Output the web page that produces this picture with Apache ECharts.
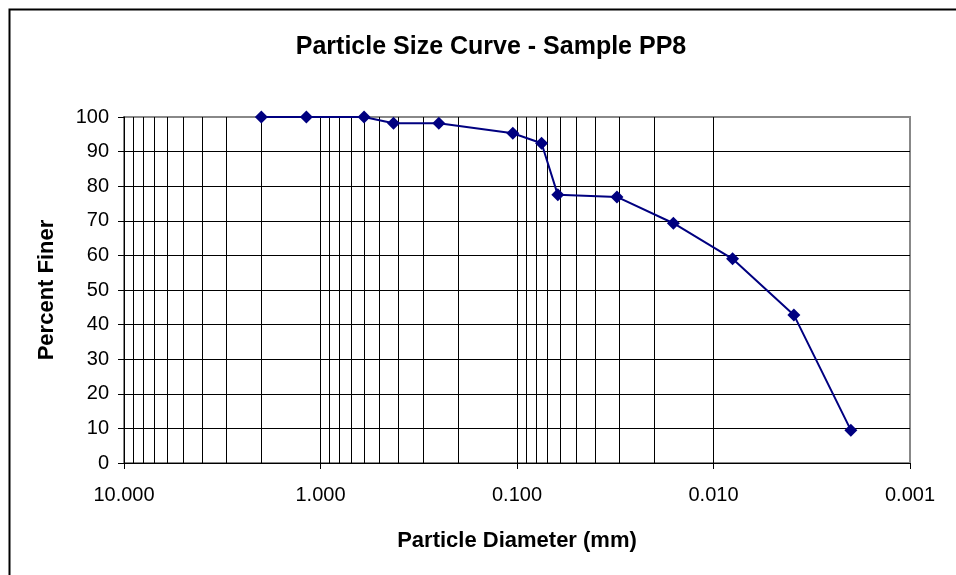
<!DOCTYPE html>
<html>
<head>
<meta charset="utf-8">
<script src="https://cdn.jsdelivr.net/npm/echarts@6/dist/echarts.min.js"></script>
<style>
html,body{margin:0;padding:0;background:#fff;}
#chart{width:956px;height:575px;}
</style>
</head>
<body>
<div id="chart"></div>
<script>
// Data
const diameters = [2.0, 1.18, 0.6, 0.425, 0.25, 0.105, 0.075, 0.062, 0.031, 0.016, 0.008, 0.0039, 0.002];
const percentFiner = [100, 100, 100, 98.2, 98.2, 95.3, 92.4, 77.5, 76.9, 69.3, 59.0, 42.8, 9.5];
// Log-grid minor lines (multiples within each decade)
const decades = [0.001, 0.01, 0.1, 1];
const multipliers = [2, 3, 4, 5, 6, 7, 8, 9];
const yTicks = [0, 10, 20, 30, 40, 50, 60, 70, 80, 90, 100];

const FONT = "'Liberation Sans', Arial, sans-serif";
const minorLines = [];
decades.forEach(d => multipliers.forEach(m => minorLines.push({ xAxis: +(d * m).toPrecision(3) })));

const chart = echarts.init(document.getElementById('chart'), null, { renderer: 'canvas' });
chart.setOption({
  animation: false,
  backgroundColor: '#fff',
  title: {
    text: 'Particle Size Curve - Sample PP8',
    left: 486, top: 30, textAlign: 'center',
    textStyle: { fontFamily: FONT, fontWeight: 'bold', fontSize: 25, color: '#000' }
  },
  graphic: [{
    type: 'rect', left: 7, top: 7, silent: true,
    shape: { x: 0, y: 0, width: 1100, height: 1100 },
    style: { fill: null, stroke: '#000', lineWidth: 2 }
  }],
  grid: {
    left: 124, right: 46, top: 117, bottom: 112,
    show: true, borderColor: '#888', borderWidth: 2, backgroundColor: '#fff'
  },
  xAxis: {
    type: 'log', logBase: 10, min: 0.001, max: 10, inverse: true,
    name: 'Particle Diameter (mm)', nameLocation: 'middle', nameGap: 67,
    nameTextStyle: { fontFamily: FONT, fontWeight: 'bold', fontSize: 22, color: '#000' },
    axisLine: { onZero: false, lineStyle: { color: '#000', width: 1 } },
    axisTick: { show: true, length: 6, lineStyle: { color: '#000' } },
    axisLabel: {
      margin: 22, fontFamily: FONT, fontSize: 20, color: '#000',
      formatter: v => Number(v).toFixed(3)
    },
    splitLine: { show: true, lineStyle: { color: ['#888', '#000', '#000', '#000', '#000'], width: 1 } },
    minorTick: { show: false }
  },
  yAxis: {
    type: 'value', min: 0, max: 100, interval: 10,
    name: 'Percent Finer', nameLocation: 'middle', nameGap: 66, nameRotate: 90,
    nameTextStyle: { fontFamily: FONT, fontWeight: 'bold', fontSize: 22, color: '#000' },
    axisLine: { show: true, lineStyle: { color: '#000', width: 1 } },
    axisTick: { show: true, length: 6, lineStyle: { color: '#000' } },
    axisLabel: { margin: 15, fontFamily: FONT, fontSize: 20, color: '#000' },
    splitLine: {
      show: true,
      lineStyle: { color: yTicks.map(v => v === 100 ? '#888' : '#000'), width: 1 }
    }
  },
  series: [
    {
      type: 'line', data: [], z: 1, silent: true,
      markLine: {
        silent: true, symbol: 'none', animation: false,
        label: { show: false },
        lineStyle: { color: '#000', width: 1, type: 'solid' },
        data: minorLines
      }
    },
    {
      type: 'line', z: 5,
      data: diameters.map((d, i) => [d, percentFiner[i]]),
      symbol: 'diamond', symbolSize: 13,
      lineStyle: { color: '#000080', width: 2 },
      itemStyle: { color: '#000080' }
    }
  ]
});
</script>
</body>
</html>
